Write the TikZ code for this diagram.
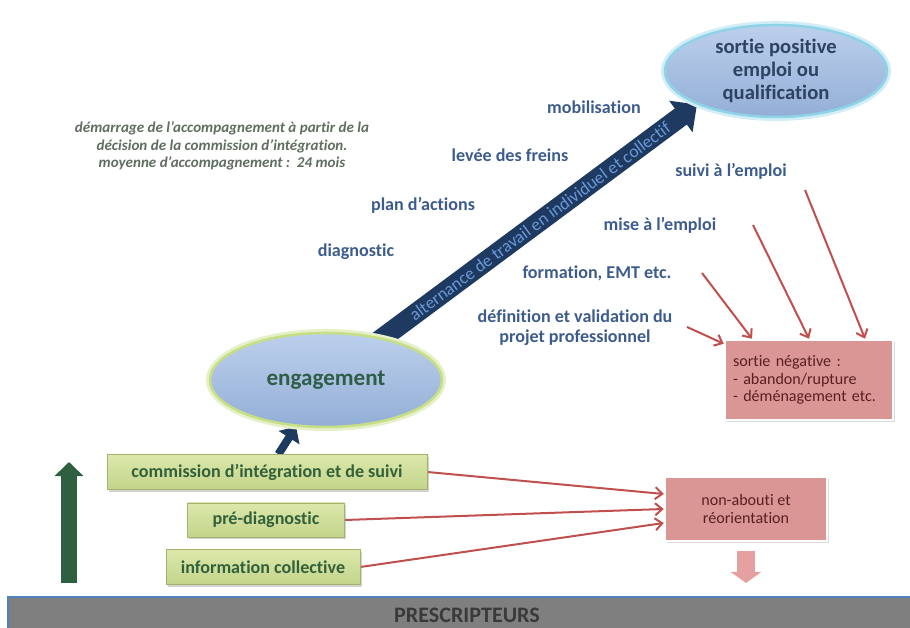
\documentclass[tikz,border=0pt]{standalone}
\usepackage{fontspec}
\setmainfont{Carlito}[Ligatures={TeX,NoCommon}]
\usetikzlibrary{shapes.geometric,arrows.meta,shadows}
\pgfdeclarelayer{bg}
\pgfsetlayers{bg,main}
\definecolor{lblblue}{HTML}{3D5C8C}
\definecolor{postext}{HTML}{2E4262}
\definecolor{engtext}{HTML}{2F5E48}
\definecolor{bubtop}{HTML}{BCD0EC}
\definecolor{bubbot}{HTML}{93AED6}
\definecolor{posglow}{HTML}{8FD3E6}
\definecolor{engglow}{HTML}{C6DE84}
\definecolor{gtop}{HTML}{DCE8AB}
\definecolor{gbot}{HTML}{C3D48A}
\definecolor{gedge}{HTML}{A3B36E}
\definecolor{gtext}{HTML}{32603A}
\definecolor{rfill}{HTML}{D99694}
\definecolor{rtext}{HTML}{5A2020}
\definecolor{redline}{HTML}{C0504D}
\definecolor{arrnavy}{HTML}{1F3A60}
\definecolor{arrtext}{HTML}{6A98D8}
\definecolor{updark}{HTML}{2E5F40}
\definecolor{downpink}{HTML}{E6A0A0}
\definecolor{notetext}{HTML}{5F6E5E}
\definecolor{prescfill}{HTML}{7F7F7F}
\definecolor{prescedge}{HTML}{4F81BD}
\definecolor{presctext}{HTML}{3A3A3A}
\tikzset{
    bubble/.style={ellipse, inner sep=0mm, align=center, top color=bubtop, bottom color=bubbot, line width=2.5pt, font=\bfseries},
    stagelab/.style={inner sep=0mm, align=center, text=lblblue, font=\fontsize{18}{20}\selectfont\bfseries},
    gbox/.style={rectangle, inner sep=0mm, top color=gtop, bottom color=gbot, draw=gedge, line width=.6pt, text=gtext, font=\fontsize{18}{20}\selectfont\bfseries, drop shadow={shadow xshift=1.5pt, shadow yshift=-2pt, opacity=.35}},
    rbox/.style={rectangle, inner sep=0mm, fill=rfill, draw=white, line width=2.5pt, text=rtext, font=\fontsize{16}{17.5}\selectfont, drop shadow={shadow xshift=1.5pt, shadow yshift=-2pt, opacity=.3}}
}
\tikzset{
    redarrow/.style={draw=redline, line width=2pt, -{Straight Barb[length=7pt,width=12pt]}},
    bigarrow/.style={draw=arrnavy, line width=20pt, -{Triangle[width=38pt,length=20pt]}, shorten <=-12pt},
    stubarrow/.style={draw=arrnavy, line width=8pt, -{Triangle[width=24pt,length=13pt]}},
    uparrow/.style={draw=updark, line width=15pt, -{Triangle[width=28pt,length=14pt]}},
    downarrow/.style={draw=downpink, line width=17pt, -{Triangle[width=30pt,length=11pt]}, shorten <=0.315cm}
}

\begin{document}
\begin{tikzpicture}
        \useasboundingbox (0cm, 0cm) rectangle (31.850000cm, 21.980000cm);
        \node (pos) [bubble, minimum width=7.770000cm, minimum height=3.220000cm, draw=posglow, preaction={draw=posglow!40, line width=8pt}, text=postext, font=\fontsize{20.5}{22.5}\selectfont\bfseries] at (27.160000cm, 19.495000cm) {sortie positive\\emploi ou\\qualification};
        \node (eng) [bubble, minimum width=8.120000cm, minimum height=3.290000cm, draw=engglow, preaction={draw=engglow!45, line width=8pt}, text=engtext, font=\fontsize{23}{25}\selectfont\bfseries] at (11.410000cm, 8.680000cm) {engagement};
        \node (b1) [gbox, minimum width=11.200000cm, minimum height=1.225000cm] at (9.345000cm, 5.460000cm) {commission d’intégration et de suivi};
        \node (b2) [gbox, minimum width=5.495000cm, minimum height=1.190000cm] at (9.310000cm, 3.780000cm) {pré-diagnostic};
        \node (b3) [gbox, minimum width=6.790000cm, minimum height=1.225000cm] at (9.205000cm, 2.135000cm) {information collective};
        \node (nab) [rbox, minimum width=5.670000cm, minimum height=2.240000cm, align=center] at (26.110000cm, 4.165000cm) {non-abouti et\\réorientation};
        \node (neg) [rbox, minimum width=5.880000cm, minimum height=2.800000cm, text width=5.320000cm, inner xsep=0.280000cm, align=left] at (28.315000cm, 8.680000cm) {sortie négative :\\- abandon/rupture\\- déménagement etc.};
        \node (presc) [rectangle, inner sep=0mm, minimum width=32.130000cm, minimum height=1.300000cm, fill=prescfill, draw=prescedge, line width=1.5pt, text=presctext, font=\fontsize{22}{24}\selectfont\bfseries] at (16.345000cm, 0.435000cm) {PRESCRIPTEURS};
        \node (mob) [stagelab] at (20.790000cm, 18.235000cm) {mobilisation};
        \node (lev) [stagelab] at (17.850000cm, 16.555000cm) {levée des freins};
        \node (plan) [stagelab] at (14.805000cm, 14.805000cm) {plan d’actions};
        \node (diag) [stagelab] at (12.460000cm, 13.160000cm) {diagnostic};
        \node (suiv) [stagelab] at (25.585000cm, 15.995000cm) {suivi à l’emploi};
        \node (mise) [stagelab] at (23.100000cm, 14.105000cm) {mise à l’emploi};
        \node (form) [stagelab] at (20.895000cm, 12.425000cm) {formation, EMT etc.};
        \node (defi) [stagelab] at (20.125000cm, 10.500000cm) {définition et validation du\\projet professionnel};
        \node (note) [inner sep=0mm, align=center, text=notetext, font=\fontsize{15}{17.5}\selectfont\bfseries\itshape] at (7.770000cm, 16.870000cm) {démarrage de l’accompagnement à partir de la\\décision de la commission d’intégration.\\moyenne d’accompagnement :~~24 mois};
        \coordinate (f0) at (24.570000cm, 12.425000cm);
        \coordinate (f1) at (26.355000cm, 14.105000cm);
        \coordinate (f2) at (28.175000cm, 15.330000cm);
        \coordinate (f3) at (24.045000cm, 10.535000cm);
        \coordinate (nabout) at (26.110000cm, 1.575000cm);
        \begin{pgfonlayer}{bg}
                \draw (eng) edge [bigarrow] node [sloped, text=arrtext, font=\fontsize{17.5}{17.5}\selectfont] {alternance de travail en individuel et collectif} (pos.203);
                \draw (b1) edge [stubarrow] (eng);
                \draw (2.415000cm, 1.575000cm) edge [uparrow] (2.415000cm, 5.810000cm);
                \draw (nab) edge [downarrow] (nabout);
                \draw (b1.east) edge [redarrow] ([yshift=0.525cm]nab.west);
                \draw (b2.east) edge [redarrow] (nab.west);
                \draw (b3.east) edge [redarrow] ([yshift=-0.490cm]nab.west);
                \draw (f0) edge [redarrow] ([xshift=-1.995cm]neg.north);
                \draw (f1) edge [redarrow] (neg.north);
                \draw (f2) edge [redarrow] ([xshift=1.960cm]neg.north);
                \draw (f3) edge [redarrow] ([yshift=-0.175cm]neg.north west);
        \end{pgfonlayer}
\end{tikzpicture}
\end{document}
